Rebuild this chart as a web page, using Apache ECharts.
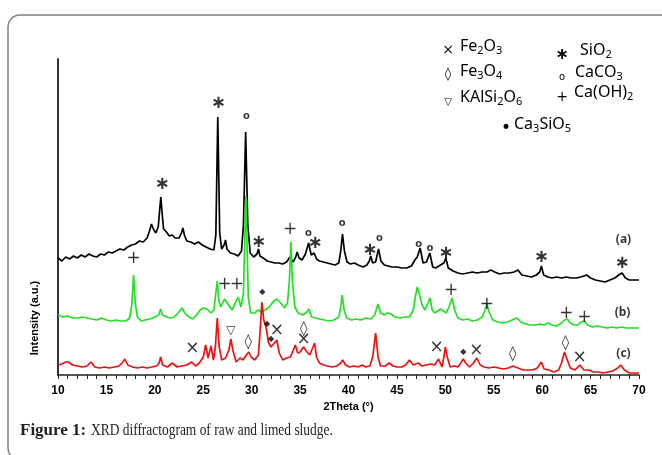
<!DOCTYPE html>
<html>
<head>
<meta charset="utf-8">
<script src="https://cdn.jsdelivr.net/npm/echarts@6/dist/echarts.min.js"></script>
<style>
  html, body { margin: 0; padding: 0; background: #fff; }
  #xrd { width: 662px; height: 455px; }
</style>
</head>
<body>
<div id="xrd"></div>
<script>
// curves: [2theta, intensity (a.u.), offset already included]
var raw = [[10,117],[10.4,114],[10.8,118],[11.2,116],[11.6,119],[12,117],[12.4,120],[12.8,118],[13.2,121],[13.6,119],[14,118],[14.4,121],[14.8,120],[15.2,123],[15.6,122],[16,124],[16.4,126],[16.8,125],[17.2,128],[17.6,130],[18,131],[18.4,134],[18.8,133],[19.2,137],[19.45,144],[19.65,151],[19.85,146],[20.1,142],[20.35,148],[20.5,165],[20.62,178],[20.75,162],[20.9,146],[21.2,143],[21.5,139],[21.8,140],[22.1,137],[22.5,137],[22.75,142],[22.9,147],[23.05,140],[23.3,134],[23.7,133],[24.1,131],[24.5,133],[24.9,130],[25.3,128],[25.7,126],[26.1,125],[26.3,140],[26.5,258],[26.7,142],[26.9,126],[27.15,130],[27.3,135],[27.45,126],[27.8,122],[28.2,121],[28.6,119],[28.95,124],[29.15,150],[29.38,243],[29.6,150],[29.85,122],[30.2,118],[30.55,121],[30.7,126],[30.85,119],[31.2,117],[31.6,114],[32,113],[32.4,112],[32.8,112],[33.2,111],[33.6,113],[33.95,118],[34.3,113],[34.55,118],[34.7,123],[34.9,117],[35.2,115],[35.55,121],[35.88,132],[36.15,120],[36.45,122],[36.7,116],[37,114],[37.4,113],[37.8,112],[38.2,111],[38.6,110],[39,112],[39.2,124],[39.38,141],[39.58,124],[39.85,113],[40.2,111],[40.6,112],[41,110],[41.5,108],[41.9,110],[42.15,114],[42.3,119],[42.5,112],[42.8,113],[43.1,126],[43.35,114],[43.7,110],[44.1,109],[44.5,108],[45,108],[45.5,107],[46,107],[46.5,109],[46.85,115],[47.1,118],[47.4,127],[47.7,112],[48.05,113],[48.4,122],[48.7,108],[49,107],[49.5,110],[49.85,112],[50.05,117],[50.3,107],[50.8,104],[51.3,102],[51.8,101],[52.3,102],[52.8,103],[53.3,102],[53.8,103],[54.3,103],[54.7,105],[55.1,103],[55.6,101],[56.1,102],[56.6,102],[57.1,103],[57.5,105],[57.9,100],[58.4,99],[58.9,98],[59.4,100],[59.75,103],[59.92,109],[60.15,100],[60.6,98],[61,97],[61.5,98],[62,97],[62.5,98],[63,97],[63.5,97],[64,98],[64.6,100],[65,97],[65.5,95],[66,94],[66.5,93],[67,95],[67.5,97],[67.9,100],[68.25,102],[68.6,97],[69,95],[69.5,95],[70,95]];

var limedB = [[10,60],[10.5,58],[11,59],[11.5,57],[12,57],[12.5,58],[13,57],[13.5,56],[14,55],[14.5,57],[15,55],[15.5,54],[16,55],[16.5,54],[17,54],[17.4,57],[17.62,70],[17.8,100],[17.98,72],[18.2,58],[18.6,54],[19,55],[19.5,56],[20,58],[20.4,60],[20.6,66],[20.8,60],[21.2,58],[21.6,57],[22,58],[22.4,62],[22.8,67],[23.1,62],[23.5,58],[23.9,56],[24.3,60],[24.7,65],[25,67],[25.4,66],[25.8,62],[26.1,65],[26.3,82],[26.45,94],[26.6,75],[26.8,68],[27.2,76],[27.6,70],[28,65],[28.3,72],[28.6,78],[28.9,68],[29.15,82],[29.4,179],[29.65,78],[29.9,62],[30.3,62],[30.7,65],[31,63],[31.4,65],[31.8,68],[32.2,73],[32.6,76],[33,72],[33.4,67],[33.7,72],[33.9,95],[34.05,133],[34.2,95],[34.45,68],[34.8,62],[35.3,60],[35.7,63],[35.9,66],[36.2,58],[36.6,57],[37,56],[37.5,55],[38,54],[38.5,55],[39,58],[39.15,65],[39.35,80],[39.55,65],[39.8,57],[40.3,55],[40.8,56],[41.3,55],[41.8,57],[42.3,56],[42.7,60],[43.05,71],[43.3,62],[43.7,60],[44,62],[44.4,61],[44.8,58],[45.3,57],[45.8,58],[46.3,58],[46.7,65],[46.9,78],[47.1,88],[47.3,82],[47.6,70],[47.9,65],[48.2,72],[48.4,77],[48.65,65],[48.9,62],[49.2,64],[49.5,66],[49.8,64],[50.1,62],[50.45,70],[50.7,77],[50.95,65],[51.3,57],[51.8,55],[52.3,56],[52.8,54],[53.3,55],[53.8,58],[54.1,65],[54.3,71],[54.55,62],[54.9,55],[55.4,53],[55.9,52],[56.4,53],[56.9,55],[57.4,57],[57.8,53],[58.3,51],[58.8,50],[59.3,50],[59.8,51],[60.2,50],[60.6,52],[61,50],[61.5,49],[62,52],[62.3,55],[62.6,56],[62.9,52],[63.3,50],[63.7,50],[64,53],[64.35,54],[64.7,50],[65.2,48],[65.7,49],[66.2,48],[66.7,47],[67.2,48],[67.7,47],[68.2,48],[68.7,47],[69.2,47],[69.6,47],[70,47]];

var limedC = [[10,10],[10.4,11],[10.8,13],[11.1,13],[11.5,10],[12,9],[12.5,8],[13,9],[13.4,13],[13.8,8],[14.3,7],[14.8,8],[15.3,7],[15.8,8],[16.3,9],[16.7,13],[16.9,16],[17.2,10],[17.7,8],[18.2,7],[18.7,8],[19.2,7],[19.7,8],[20.2,9],[20.45,12],[20.6,18],[20.8,10],[21.3,8],[21.8,12],[22.3,8],[22.8,9],[23.3,10],[23.8,13],[24.2,9],[24.6,12],[25,18],[25.25,30],[25.5,17],[25.8,29],[26.05,15],[26.25,28],[26.45,57],[26.65,28],[26.9,15],[27.3,17],[27.65,25],[27.85,36],[28.05,25],[28.4,13],[28.8,17],[29.1,15],[29.45,20],[29.7,23],[29.95,18],[30.3,15],[30.7,20],[30.9,48],[31.05,73],[31.25,55],[31.5,47],[31.75,32],[32,28],[32.2,26],[32.6,35],[32.85,22],[33.2,15],[33.6,17],[34,18],[34.3,25],[34.5,30],[34.75,22],[35,23],[35.35,28],[35.7,23],[36,20],[36.3,27],[36.5,32],[36.7,18],[37,12],[37.4,10],[37.8,9],[38.3,8],[38.8,9],[39.2,12],[39.4,15],[39.7,10],[40.1,8],[40.6,9],[41,8],[41.4,10],[41.8,8],[42.2,9],[42.5,18],[42.8,42],[43.05,18],[43.3,9],[43.8,9],[44.2,12],[44.6,9],[45,8],[45.5,8],[45.9,10],[46.3,15],[46.7,10],[47.2,12],[47.6,9],[48,10],[48.5,11],[48.9,10],[49.3,16],[49.65,8],[49.85,18],[50,28],[50.2,18],[50.5,8],[50.9,9],[51.3,8],[51.6,12],[51.85,16],[52.1,12],[52.5,8],[52.9,12],[53.25,17],[53.6,10],[54,8],[54.5,7],[55,8],[55.5,7],[56,6],[56.5,7],[57,9],[57.5,7],[58,5],[58.5,5],[59,5],[59.5,7],[59.9,13],[60.2,6],[60.7,5],[61.2,3],[61.7,5],[62,12],[62.3,23],[62.6,15],[62.9,7],[63.4,5],[63.9,10],[64.3,5],[64.8,5],[65.3,3],[65.8,3],[66.3,2],[66.8,3],[67.3,4],[67.8,7],[68.1,10],[68.5,5],[69,2],[69.5,2],[70,2]];

// peak markers, same units
var sio2Marks = [[20.75,190.7],[26.56,271.7],[30.7,132.3],[36.55,131.7],[42.2,125],[50.05,121.7],[59.9,117.7],[68.25,111.7]];
var caco3Marks = [[29.46,259],[35.86,141.7],[39.35,151.7],[43.2,136.7],[47.25,131],[48.4,126.7]];
var caoh2Marks = [[17.8,116.7],[27.2,90.7],[28.47,90.7],[33.96,145.7],[50.6,84],[54.3,70],[62.5,61],[64.35,57.7]];
var fe2o3Marks = [[23.87,26.7],[32.6,44.3],[35.37,35.7],[49.1,27.3],[53.2,24.3],[63.87,17.7]];
var fe3o4Marks = [[29.64,33.3],[35.37,45.7],[56.97,20.7],[62.4,31.7]];
var kalsiMarks = [[27.85,44.3]];
var ca3sio5Marks = [[31.1,82.7],[31.6,50.7],[32.0,35.7],[51.85,23.3]];
var curveTags = [[68.4,135,'(a)'],[68.3,62,'(b)'],[68.4,21,'(c)']];

var chart = echarts.init(document.getElementById("xrd"));

function marks(data, glyph, size, bold) {
  return {
    type: "scatter",
    data: data,
    symbolSize: 0,
    silent: true,
    z: 5,
    label: {
      show: true,
      position: "inside",
      formatter: glyph,
      color: "#000",
      fontFamily: "DejaVu Sans",
      fontSize: size,
      fontWeight: bold ? "bold" : "normal",
    },
  };
}

function line(data, color) {
  return {
    type: "line",
    data: data,
    symbol: "none",
    lineStyle: { color: color, width: 1.7 },
    z: 3,
  };
}

var sub = { fontSize: 11, fontFamily: "Noto Sans", color: "#000", padding: [9, 0, 0, 0] };
var leg = { fontSize: 16, fontFamily: "Noto Sans", color: "#000" };
function legendText(x, y, text) {
  return {
    type: "text",
    left: x,
    top: y,
    style: { text: text, rich: { n: leg, s: sub }, fill: "#000" },
  };
}
function legendGlyph(x, y, glyph, size, bold) {
  return {
    type: "text",
    x: x,
    y: y,
    style: {
      text: glyph,
      fontSize: size,
      fontWeight: bold ? "bold" : "normal",
      fontFamily: "DejaVu Sans",
      fill: "#000",
      align: "center",
      verticalAlign: "middle",
    },
  };
}

chart.setOption({
  animation: false,
  grid: { left: 58, right: 23, top: 59, bottom: 80 },
  xAxis: {
    type: "value",
    min: 10,
    max: 70,
    interval: 5,
    name: "2Theta (°)",
    nameLocation: "middle",
    nameGap: 25,
    nameTextStyle: { fontFamily: "Liberation Sans", fontWeight: "bold", fontSize: 11, color: "#000" },
    axisLine: { lineStyle: { color: "#222", width: 1.5 } },
    axisTick: { show: true, length: 4, lineStyle: { color: "#222" } },
    minorTick: { show: true, splitNumber: 5, length: 4, lineStyle: { color: "#222" } },
    axisLabel: { fontFamily: "Liberation Sans", fontWeight: "bold", fontSize: 12, color: "#000", margin: 10 },
    splitLine: { show: false },
  },
  yAxis: {
    type: "value",
    min: 0,
    max: 316,
    axisLine: { show: true, lineStyle: { color: "#333", width: 2 } },
    axisTick: { show: false },
    axisLabel: { show: false },
    splitLine: { show: false },
  },
  series: [
    line(raw, "#000000"),
    line(limedB, "#22e022"),
    line(limedC, "#ee1111"),
    marks(sio2Marks, "∗", 18, true),
    marks(caco3Marks, "o", 10, true),
    marks(caoh2Marks, "+", 17, false),
    marks(fe2o3Marks, "×", 17, false),
    marks(fe3o4Marks, "◊", 15, false),
    marks(kalsiMarks, "▽", 12, false),
    marks(ca3sio5Marks, "◆", 8, false),
    {
      type: "scatter",
      data: curveTags,
      symbolSize: 0,
      silent: true,
      label: {
        show: true,
        position: "inside",
        formatter: function (p) { return p.data[2]; },
        fontFamily: "Noto Sans",
        fontWeight: "bold",
        fontSize: 12,
        color: "#000",
      },
    },
  ],
  graphic: [
    {
      type: "rect",
      shape: { x: 8, y: 15, width: 700, height: 445, r: 12 },
      style: { fill: "none", stroke: "#808080", lineWidth: 1.5 },
      z: -1,
    },
    {
      type: "text",
      x: 35,
      y: 318,
      rotation: Math.PI / 2,
      style: {
        text: "Intensity (a.u.)",
        fontFamily: "Liberation Sans",
        fontWeight: "bold",
        fontSize: 11,
        fill: "#000",
        align: "center",
        verticalAlign: "middle",
      },
    },
    legendGlyph(448, 50, "×", 14),
    legendText(460, 38, "{n|Fe}{s|2}{n|O}{s|3}"),
    legendGlyph(448, 75, "◊", 13),
    legendText(460, 63, "{n|Fe}{s|3}{n|O}{s|4}"),
    legendGlyph(448, 102, "▽", 10),
    legendText(460, 89, "{n|KAlSi}{s|2}{n|O}{s|6}"),
    legendGlyph(562, 55, "∗", 16, true),
    legendText(580, 42, "{n|SiO}{s|2}"),
    legendGlyph(562, 77, "o", 10),
    legendText(575, 64, "{n|CaCO}{s|3}"),
    legendGlyph(562, 97, "+", 14),
    legendText(574, 84, "{n|Ca(OH)}{s|2}"),
    legendGlyph(506, 129, "•", 17),
    legendText(514, 116, "{n|Ca}{s|3}{n|SiO}{s|5}"),
    {
      type: "text",
      left: 20,
      top: 422,
      style: {
        text: "Figure 1:",
        fontFamily: "Liberation Serif",
        fontWeight: "bold",
        fontSize: 17,
        fill: "#222",
      },
    },
    {
      type: "text",
      x: 91,
      y: 422,
      scaleX: 0.79,
      style: {
        text: "XRD diffractogram of raw and limed sludge.",
        fontFamily: "Liberation Serif",
        fontSize: 17,
        fill: "#222",
      },
    },
  ],
});
</script>
</body>
</html>
